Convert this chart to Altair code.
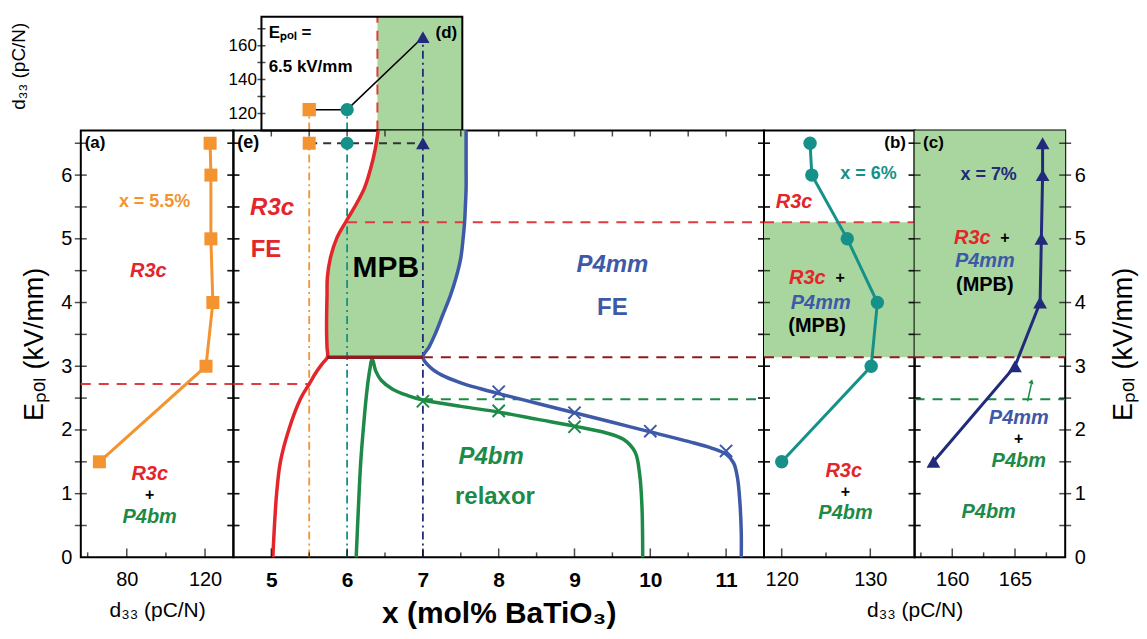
import altair as alt
import pandas as pd

FONT = "Liberation Sans"
ORANGE = "#F39431"
RED = "#E3262B"
DRED = "#8E1B1F"
TEAL = "#16918A"
NAVY = "#222A7C"
BLUE = "#3D59A8"
GREEN = "#1D8A47"
FILL = "#A9D69E"
DASHRED = "#DF3B40"

# ---------------- data ----------------
E_pol = [1.5, 3.0, 4.0, 5.0, 6.0, 6.5]
d33_a = [66.0, 120.5, 124.0, 123.0, 123.0, 122.6]      # x = 5.5 %
d33_b = [120.0, 130.1, 130.8, 127.4, 123.4, 123.2]     # x = 6 %
d33_c = [158.5, 165.0, 167.0, 167.1, 167.2, 167.2]     # x = 7 %

x_inset = [5.5, 6.0, 7.0]
d33_inset = [122.3, 122.3, 165.0]

red_x = [5.02, 5.07, 5.12, 5.23, 5.39, 5.50, 5.60, 5.68, 5.74]
red_y = [0.0, 1.0, 1.5, 2.0, 2.5, 2.72, 2.92, 3.05, 3.14]
mpb_y = [3.14, 3.3, 3.5, 3.8, 4.1, 4.4, 4.7, 5.0, 5.26, 5.5, 5.8, 6.1, 6.4, 6.7]
mpb_left = [5.74, 5.735, 5.73, 5.73, 5.735, 5.74, 5.78, 5.86, 5.98, 6.1, 6.23, 6.31, 6.37, 6.41]
mpb_right = [7.0, 7.08, 7.16, 7.26, 7.36, 7.44, 7.5, 7.53, 7.55, 7.56, 7.57, 7.57, 7.57, 7.57]
blue_x = [11.2, 11.2, 11.18, 11.15, 11.1, 11.0, 10.8, 10.5, 10.0, 9.5, 9.0, 8.5, 8.0, 7.75, 7.5, 7.25, 7.1, 7.0]
blue_y = [0.0, 0.4, 0.9, 1.25, 1.48, 1.62, 1.72, 1.82, 1.97, 2.12, 2.27, 2.42, 2.57, 2.65, 2.74, 2.86, 2.98, 3.14]
green_x = [6.12, 6.15, 6.18, 6.22, 6.26, 6.30, 6.33, 6.38, 6.45, 6.6, 6.8, 7.0, 7.5, 8.0, 8.5, 9.0, 9.4, 9.65, 9.8, 9.86, 9.89, 9.9]
green_y = [0.0, 0.8, 1.5, 2.1, 2.6, 2.95, 3.12, 2.92, 2.78, 2.64, 2.54, 2.47, 2.37, 2.28, 2.17, 2.06, 1.96, 1.85, 1.65, 1.3, 0.8, 0.0]
cross_blue_x = [8, 9, 10, 11]
cross_blue_y = [2.6, 2.27, 1.98, 1.67]
cross_green_x = [7, 8, 9]
cross_green_y = [2.45, 2.3, 2.05]

E_A = 2.72
E_LOW = 3.14
E_UP = 5.26
E_GREEN = 2.48
E_MARK = 6.5
INSET_MPB = 6.4

# ---------------- layout ----------------
E_DOM = [0, 6.7]
XA = [56.5, 134.5]
XE = [4.5, 11.5]
XB = [118, 135]
XC = [157, 169]
YD = [110, 177]
INSET_BOX = [4.87, 7.52]
W_A, W_E, W_B, W_C = 153, 532, 151, 151
H_MAIN, H_TOP = 428, 114

half = [i * 0.5 for i in range(1, 14)]
LAB = "datum.value % 1 == 0 ? format(datum.value, 'd') : ''"
CROSS = "M-1,-1L1,1M-1,1L1,-1"
DASH = [10, 8]
DASHDOT = [8, 4, 2, 4]
EPOL_TITLE = "Eₚₒₗ (kV/mm)"


def sc(dom):
    return alt.Scale(domain=dom, nice=False, zero=False)


class P:
    """Panel: shared scales and axes, given identically to every layer."""

    def __init__(self, xdom, ydom, xax=None, yax=None):
        self.xdom, self.ydom, self.xax, self.yax = xdom, ydom, xax, yax

    def X(self, f):
        return alt.X(f"{f}:Q", scale=sc(self.xdom), axis=self.xax)

    def Y(self, f):
        return alt.Y(f"{f}:Q", scale=sc(self.ydom), axis=self.yax)


def yaxis(orient):
    kw = dict(orient=orient, values=[0] + half, labelExpr=LAB, ticks=False, tickSize=0,
              labelPadding=9, labelFontSize=20, title=EPOL_TITLE, titleFontSize=27,
              titleFontWeight="normal", titlePadding=12)
    if orient == "right":
        kw.update(titleAngle=270, titleX=58, titleY=H_MAIN / 2, titleAlign="center",
                  titleBaseline="middle")
    return alt.Axis(**kw)


def xaxis(vals, title, bold=False, size=20, tsize=21, pad=10, **kw):
    return alt.Axis(values=vals, ticks=False, tickSize=0, labelPadding=12, labelFontSize=size,
                    labelFontWeight="bold" if bold else "normal", title=title, titleFontSize=tsize,
                    titleFontWeight="bold" if bold else "normal", titlePadding=pad, **kw)


def hline(p, y, x0, x1, color, dash=None, width=2.0):
    d = pd.DataFrame({"x": [x0], "x2": [x1], "y": [y]})
    mk = dict(color=color, strokeWidth=width)
    if dash:
        mk["strokeDash"] = dash
    return alt.Chart(d).mark_rule(**mk).encode(x=p.X("x"), x2="x2:Q", y=p.Y("y"))


def vline(p, x, y0, y1, color, dash=None, width=2.0):
    d = pd.DataFrame({"x": [x], "y": [y0], "y2": [y1]})
    mk = dict(color=color, strokeWidth=width)
    if dash:
        mk["strokeDash"] = dash
    return alt.Chart(d).mark_rule(**mk).encode(x=p.X("x"), y=p.Y("y"), y2="y2:Q")


def curve(p, xs, ys, color, width=3.5, interp="catmull-rom"):
    d = pd.DataFrame({"x": xs, "y": ys, "i": list(range(len(xs)))})
    return alt.Chart(d).mark_line(color=color, strokeWidth=width, interpolate=interp).encode(
        x=p.X("x"), y=p.Y("y"), order="i:Q")


def labels(p, texts, xs, ys, colors, size=20, style="italic", weight="bold", align="center"):
    d = pd.DataFrame({"t": texts, "x": xs, "y": ys, "c": colors})
    return alt.Chart(d).mark_text(fontSize=size, fontStyle=style, fontWeight=weight,
                                  align=align, baseline="middle").encode(
        x=p.X("x"), y=p.Y("y"), text="t:N", color=alt.Color("c:N", scale=None))


def xticks(p, vals, H, L, top=False):
    d = pd.DataFrame({"v": vals})
    return alt.Chart(d).mark_tick(orient="vertical", size=L, thickness=1.5, color="black").encode(
        x=p.X("v"), y=alt.value(L / 2 if top else H - L / 2))


def yticks(p, W, L=12):
    d = pd.DataFrame({"v": half})
    return [alt.Chart(d).mark_tick(orient="horizontal", size=L, thickness=1.5, color="black").encode(
        y=p.Y("v"), x=alt.value(xp)) for xp in (0, W)]


def markers(p, xs, ys, shape, color, size=170):
    d = pd.DataFrame({"x": xs, "y": ys})
    return alt.Chart(d).mark_point(shape=shape, filled=True, size=size, color=color, opacity=1).encode(
        x=p.X("x"), y=p.Y("y"))


def crosses(p, xs, ys, color):
    d = pd.DataFrame({"x": xs, "y": ys})
    return alt.Chart(d).mark_point(shape=CROSS, size=150, strokeWidth=2, color=color,
                                   filled=False, opacity=1).encode(x=p.X("x"), y=p.Y("y"))


def band(p, y0, y1):
    d = pd.DataFrame({"x": [p.xdom[0]], "x2": [p.xdom[1]], "y": [y0], "y2": [y1]})
    return alt.Chart(d).mark_rect(color=FILL, opacity=1).encode(
        x=p.X("x"), x2="x2:Q", y=p.Y("y"), y2="y2:Q")


# ---------------- panel (a) ----------------
A = P(XA, E_DOM, xaxis([80, 120], "d₃₃ (pC/N)"), yaxis("left"))
pa = alt.layer(
    curve(A, d33_a, E_pol, ORANGE, 3, "linear"),
    markers(A, d33_a, E_pol, "square", ORANGE),
    hline(A, E_A, XA[0], XA[1], DASHRED, DASH),
    labels(A, ["(a)"], [58.5], [6.5], ["black"], size=17, style="normal", align="left"),
    labels(A, ["x = 5.5%"], [94.2], [5.58], [ORANGE], size=18, style="normal"),
    labels(A, ["R3c", "R3c", "P4bm"], [91, 91.7, 91.7], [4.49, 1.31, 0.64], [RED, RED, GREEN]),
    labels(A, ["+"], [91.7], [0.98], ["black"], size=16, style="normal"),
    xticks(A, [80, 120], H_MAIN, 9), xticks(A, [60, 100], H_MAIN, 5),
    *yticks(A, W_A),
).properties(width=W_A, height=H_MAIN)

# ---------------- panel (e) ----------------
E = P(XE, E_DOM, xaxis(list(range(5, 12)), "x (mol% BaTiO₃)", bold=True, size=21, tsize=30, pad=8), None)
mpb_area = alt.Chart(pd.DataFrame({"y": mpb_y, "l": mpb_left, "r": mpb_right})).mark_area(
    orient="horizontal", color=FILL, opacity=1).encode(y=E.Y("y"), x=E.X("l"), x2="r:Q")

pe = alt.layer(
    mpb_area,
    vline(E, 5.5, 0, E_MARK, ORANGE, DASHDOT, 1.8),
    vline(E, 6.0, 0, E_MARK, TEAL, DASHDOT, 1.8),
    vline(E, 7.0, 0, E_MARK, NAVY, DASHDOT, 1.8),
    hline(E, E_A, XE[0], 5.5, DASHRED, DASH),
    hline(E, E_LOW, 7.0, XE[1], DRED, DASH),
    hline(E, E_UP, 6.0, XE[1], DASHRED, DASH),
    hline(E, E_GREEN, 7.0, XE[1], GREEN, DASH),
    hline(E, E_MARK, 5.5, 7.0, "#333333", [8, 6], 1.8),
    curve(E, red_x + mpb_left[1:], red_y + mpb_y[1:], RED),
    curve(E, green_x, green_y, GREEN),
    curve(E, blue_x + mpb_right[1:], blue_y + mpb_y[1:], BLUE),
    hline(E, E_LOW, 5.74, 7.0, DRED, None, 3.5),
    crosses(E, cross_blue_x, cross_blue_y, BLUE),
    crosses(E, cross_green_x, cross_green_y, GREEN),
    markers(E, [5.5], [E_MARK], "square", ORANGE),
    markers(E, [6.0], [E_MARK], "circle", TEAL),
    markers(E, [7.0], [E_MARK], "triangle-up", NAVY, size=190),
    labels(E, ["(e)"], [4.55], [6.5], ["black"], size=18, style="normal", align="left"),
    labels(E, ["R3c", "P4mm", "P4bm"], [5.01, 9.5, 7.9], [5.48, 4.59, 1.57], [RED, BLUE, GREEN], size=24),
    labels(E, ["FE", "FE", "relaxor"], [4.93, 9.5, 7.95], [4.83, 3.91, 0.95], [RED, BLUE, GREEN],
           size=24, style="normal"),
    labels(E, ["MPB"], [6.51], [4.54], ["black"], size=30, style="normal"),
    xticks(E, list(range(5, 12)), H_MAIN, 9), xticks(E, [5.5 + i for i in range(6)], H_MAIN, 5),
    xticks(E, [5 + 0.5 * i for i in range(13)], H_MAIN, 6, top=True),
    *yticks(E, W_E),
).properties(width=W_E, height=H_MAIN)

# ---------------- panel (b) ----------------
B = P(XB, E_DOM, xaxis([120, 130], "d₃₃ (pC/N)", titleX=W_B, titleAlign="center"), None)
pb = alt.layer(
    band(B, E_LOW, E_UP),
    hline(B, E_UP, XB[0], XB[1], DASHRED, DASH),
    hline(B, E_LOW, XB[0], XB[1], DRED, DASH),
    curve(B, d33_b, E_pol, TEAL, 3, "linear"),
    markers(B, d33_b, E_pol, "circle", TEAL, size=180),
    labels(B, ["(b)"], [132.8], [6.5], ["black"], size=17, style="normal"),
    labels(B, ["x = 6%"], [129.8], [6.02], [TEAL], size=18, style="normal"),
    labels(B, ["R3c", "R3c", "P4mm", "R3c", "P4bm"], [121.4, 122.9, 124.4, 127.0, 127.2],
           [5.58, 4.39, 4.0, 1.36, 0.70], [RED, RED, BLUE, RED, GREEN]),
    labels(B, ["+", "+"], [126.6, 127.2], [4.39, 1.03], ["black"] * 2, size=16, style="normal"),
    labels(B, ["(MPB)"], [124.0], [3.63], ["black"], style="normal"),
    xticks(B, [120, 130], H_MAIN, 9), xticks(B, [125], H_MAIN, 5),
    *yticks(B, W_B),
).properties(width=W_B, height=H_MAIN)

# ---------------- panel (c) ----------------
C = P(XC, E_DOM, xaxis([160, 165], None), yaxis("right"))
arrow_d = pd.DataFrame({"x": [166.0], "x2": [166.3], "y": [2.45], "y2": [2.72]})
arrow = alt.Chart(arrow_d).mark_rule(color=GREEN, strokeWidth=1.5).encode(
    x=C.X("x"), x2="x2:Q", y=C.Y("y"), y2="y2:Q")
arrow_head = alt.Chart(pd.DataFrame({"x": [166.32], "y": [2.76]})).mark_point(
    shape="triangle-up", filled=True, size=30, color=GREEN, opacity=1, angle=15).encode(
    x=C.X("x"), y=C.Y("y"))

pc = alt.layer(
    band(C, E_LOW, E_DOM[1]),
    hline(C, E_LOW, XC[0], XC[1], DRED, DASH),
    hline(C, E_GREEN, XC[0], XC[1], GREEN, DASH),
    curve(C, d33_c, E_pol, NAVY, 3, "linear"),
    markers(C, d33_c, E_pol, "triangle-up", NAVY, size=190),
    arrow, arrow_head,
    labels(C, ["(c)"], [158.5], [6.5], ["black"], size=17, style="normal"),
    labels(C, ["x = 7%"], [162.9], [6.0], [NAVY], size=18, style="normal"),
    labels(C, ["R3c", "P4mm", "P4mm", "P4bm", "P4bm"], [161.6, 162.6, 165.3, 165.3, 162.9],
           [5.01, 4.65, 2.19, 1.52, 0.71], [RED, BLUE, BLUE, GREEN, GREEN]),
    labels(C, ["+", "+"], [164.2, 165.3], [5.01, 1.86], ["black"] * 2, size=16, style="normal"),
    labels(C, ["(MPB)"], [162.6], [4.28], ["black"], style="normal"),
    xticks(C, [160, 165], H_MAIN, 9), xticks(C, [157.5, 162.5, 167.5], H_MAIN, 5),
    *yticks(C, W_C),
).properties(width=W_C, height=H_MAIN)

# ---------------- inset (d) ----------------
off = round((INSET_BOX[0] - XE[0]) / (XE[1] - XE[0]) * W_E)
D = P(XE, YD, None, alt.Axis(values=[120, 140, 160], ticks=False, tickSize=0, offset=-off,
                             labelPadding=5, labelFontSize=17, title="d₃₃ (pC/N)",
                             titleFontSize=19, titleFontWeight="normal",
                             titleX=-243, titleY=49, titleAngle=270,
                             titleAlign="center", titleBaseline="middle"))
box_d = pd.DataFrame({"x": [INSET_BOX[0]], "x2": [INSET_BOX[1]], "y": [YD[0]], "y2": [YD[1]]})
green_d = pd.DataFrame({"x": [INSET_MPB], "x2": [INSET_BOX[1]], "y": [YD[0]], "y2": [YD[1]]})
green_rect = alt.Chart(green_d).mark_rect(color=FILL, opacity=1).encode(
    x=D.X("x"), x2="x2:Q", y=D.Y("y"), y2="y2:Q")
box = alt.Chart(box_d).mark_rect(fillOpacity=0, stroke="black", strokeWidth=2).encode(
    x=D.X("x"), x2="x2:Q", y=D.Y("y"), y2="y2:Q")
inset_pts = pd.DataFrame({"x": x_inset, "y": d33_inset, "s": ["square", "circle", "triangle-up"],
                          "c": [ORANGE, TEAL, NAVY]})
inset_line = alt.Chart(inset_pts).mark_line(color="black", strokeWidth=1.5).encode(
    x=D.X("x"), y=D.Y("y"))
inset_mk = alt.Chart(inset_pts).mark_point(filled=True, size=180, opacity=1).encode(
    x=D.X("x"), y=D.Y("y"), shape=alt.Shape("s:N", scale=None), color=alt.Color("c:N", scale=None))
inset_ticks = alt.Chart(pd.DataFrame({"v": [120, 130, 140, 150, 160, 170],
                                      "x": [INSET_BOX[0]] * 6})).mark_tick(
    orient="horizontal", size=8, thickness=1.5, color="black").encode(y=D.Y("v"), x=D.X("x"))

pd_inset = alt.layer(
    green_rect,
    vline(D, INSET_MPB, YD[0], YD[1], DASHRED, DASH),
    vline(D, 5.5, YD[0], d33_inset[0], ORANGE, DASHDOT, 1.8),
    vline(D, 6.0, YD[0], d33_inset[1], TEAL, DASHDOT, 1.8),
    vline(D, 7.0, YD[0], d33_inset[2], NAVY, DASHDOT, 1.8),
    inset_line, inset_mk, box, inset_ticks,
    labels(D, ["Eₚₒₗ =", "6.5 kV/mm"], [4.965, 4.965], [167.6, 147.7], ["black", "black"],
           size=17, style="normal", align="left"),
    labels(D, ["(d)"], [7.31], [167.6], ["black"], size=17, style="normal"),
).properties(width=W_E, height=H_TOP, view=alt.ViewBackground(stroke="transparent"))


def spacer(w):
    return alt.Chart(pd.DataFrame({"v": [0]})).mark_point(opacity=0).encode(
        x=alt.X("v:Q", axis=None), y=alt.Y("v:Q", axis=None)).properties(
        width=w, height=H_TOP, view=alt.ViewBackground(stroke="transparent"))


chart = alt.concat(
    spacer(W_A), pd_inset, spacer(W_B), spacer(W_C),
    pa, pe, pb, pc,
    columns=4, spacing=0, bounds="flush",
).properties(
    padding={"left": 0, "top": 6, "right": 2, "bottom": 2}
).configure(font=FONT).configure_view(stroke="black", strokeWidth=2).configure_axis(
    grid=False, domain=False, labelColor="black", titleColor="black", labelFont=FONT, titleFont=FONT)

chart.save("out.html", embed_options={"renderer": "svg", "actions": False})
